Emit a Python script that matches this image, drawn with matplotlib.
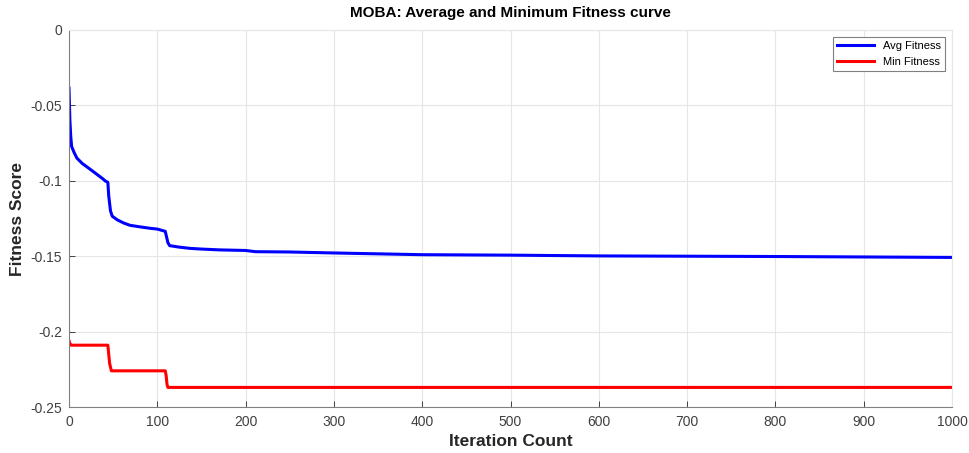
import matplotlib.pyplot as plt

# === Data ===
avg_iter = [0, 1, 2, 3, 6, 9, 15, 22, 30, 39, 41, 44, 45, 47, 49, 55, 62, 69, 80, 92, 100, 109, 110,
            112, 114, 125, 137, 148, 170, 200, 211, 250, 296, 330, 400, 500, 600, 700, 800, 900, 1000]
avg_fit = [-0.0385, -0.0597, -0.0707, -0.0773, -0.0815, -0.085, -0.0885, -0.0915, -0.0950, -0.0990,
           -0.1001, -0.1010, -0.1100, -0.1200, -0.1235, -0.1260, -0.1280, -0.1295, -0.1305, -0.1315,
           -0.1320, -0.1335, -0.1360, -0.1410, -0.1430, -0.1440, -0.1448, -0.1452, -0.1458, -0.1462,
           -0.1470, -0.1472, -0.1478, -0.1482, -0.1490, -0.1493, -0.1498, -0.1500, -0.1502, -0.1505, -0.1508]

min_iter = [0, 1, 2, 44, 45, 46, 47, 48, 109, 110, 111, 112, 1000]
min_fit = [-0.2060, -0.2080, -0.2090, -0.2090, -0.2150, -0.2210, -0.2235, -0.2260, -0.2260, -0.2290,
           -0.2350, -0.2370, -0.2370]

x_ticks = list(range(0, 1001, 100))
y_ticks = [0, -0.05, -0.1, -0.15, -0.2, -0.25]
y_tick_labels = ["0", "-0.05", "-0.1", "-0.15", "-0.2", "-0.25"]

plt.rcParams["font.family"] = ["Liberation Sans", "DejaVu Sans"]

fig = plt.figure(figsize=(9.69, 4.53), dpi=100)
ax = fig.add_axes([0.0712, 0.1015, 0.9113, 0.8323])

ax.plot(avg_iter, avg_fit, color="#0000ff", linewidth=2.2, label="Avg Fitness")
ax.plot(min_iter, min_fit, color="#ff0000", linewidth=2.2, label="Min Fitness")

ax.set_xlim(0, 1000)
ax.set_ylim(-0.25, 0)
ax.set_xticks(x_ticks)
ax.set_yticks(y_ticks)
ax.set_yticklabels(y_tick_labels)
ax.tick_params(direction="in", colors="#262626", labelcolor="#404040", labelsize=10, length=4, width=0.6)
ax.tick_params(axis="x", pad=6)
ax.tick_params(axis="y", pad=5)
ax.grid(True, color="#e6e6e6", linewidth=0.8)
for side in ["left", "bottom"]:
    ax.spines[side].set_color("#808080")
for side in ["top", "right"]:
    ax.spines[side].set_color("#e6e6e6")

ax.set_title("MOBA: Average and Minimum Fitness curve", fontsize=11, fontweight="bold", pad=9)
ax.set_xlabel("Iteration Count", fontsize=12.5, fontweight="bold", color="#262626", labelpad=3)
ax.set_ylabel("Fitness Score", fontsize=12.5, fontweight="bold", color="#262626", labelpad=4)

leg = ax.legend(loc="upper right", fontsize=8, fancybox=False, framealpha=1, edgecolor="#808080",
                handlelength=3.3, borderaxespad=0.6)
leg.get_frame().set_linewidth(0.8)

fig.savefig("out.png", dpi=100)
